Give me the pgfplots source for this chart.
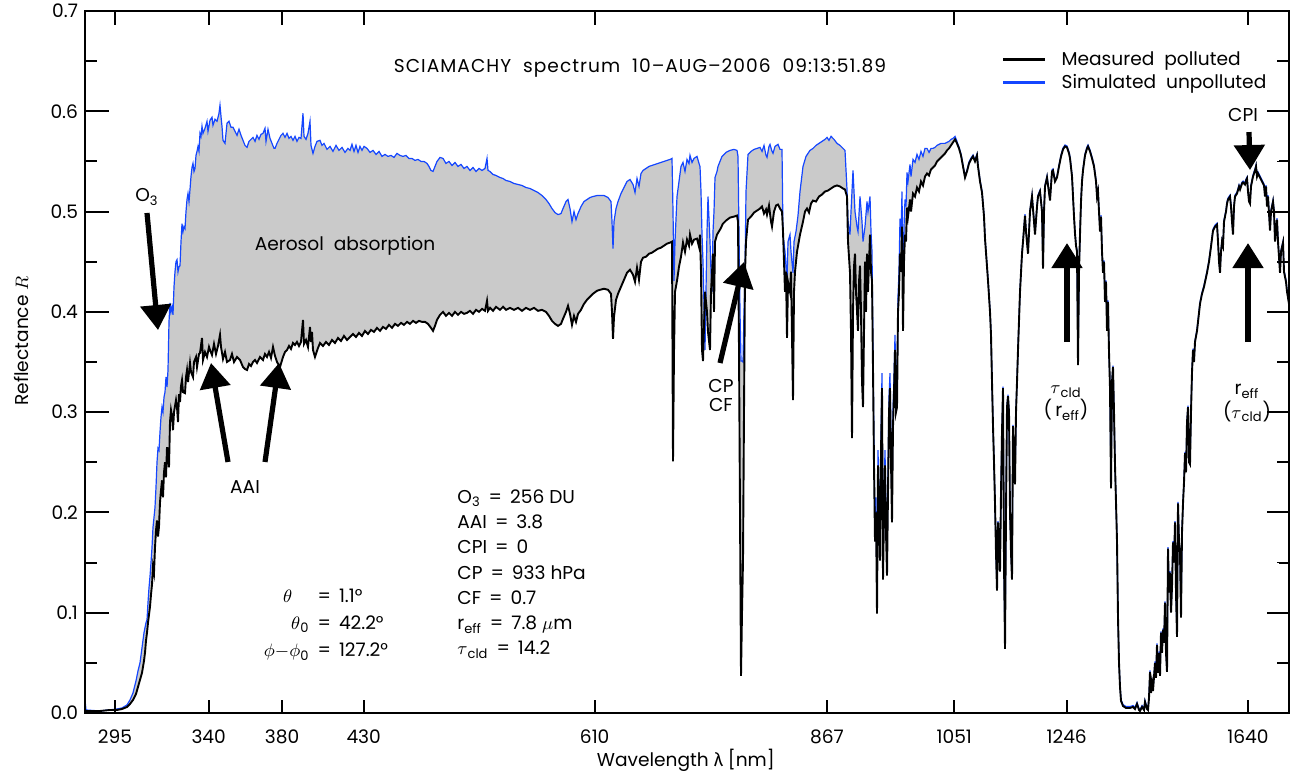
\documentclass[border=0pt]{standalone}
\usepackage{fontspec}
\setmainfont{Poppins}
\newfontfamily\grk{Fira Sans}
\usepackage{pgfplots}
\usepackage{pgfplotstable}
\pgfplotsset{compat=1.18}
\usetikzlibrary{arrows.meta}
\definecolor{simblue}{RGB}{20,70,255}
\definecolor{fillgray}{RGB}{202,202,202}
\newcommand{\eq}{\hspace{4pt}=\hspace{4pt}}

\pgfplotstableread{
x y
85 0.002
100 0.002
110 0.003
117 0.003
122 0.004
127 0.006
130 0.009
133 0.013
136 0.019
138 0.026
140 0.033
142 0.040
144 0.052
145 0.060
146 0.072
147 0.080
148 0.090
149 0.098
150 0.106
151 0.118
152 0.128
153 0.146
154 0.140
155 0.165
156 0.182
157 0.192
158 0.176
159 0.186
160 0.210
161 0.222
162 0.232
163 0.215
164 0.240
165 0.250
166 0.235
167 0.265
168 0.255
169 0.245
170 0.290
171 0.302
172 0.296
173 0.282
174 0.300
176 0.312
177 0.305
178 0.290
179 0.318
180 0.310
181 0.326
182 0.332
183 0.320
185 0.319
186 0.335
187 0.342
188 0.330
190 0.349
191 0.340
193 0.335
194 0.350
196 0.355
197 0.345
199 0.358
200 0.359
202 0.374
203 0.352
205 0.360
207 0.355
209 0.365
210 0.362
212 0.357
214 0.368
216 0.358
218 0.366
220 0.377
221 0.365
223 0.353
225 0.360
227 0.350
230 0.352
232 0.358
234 0.350
237 0.355
240 0.352
243 0.345
245 0.343
247 0.342
249 0.348
251 0.346
253 0.350
255 0.352
257 0.349
260 0.355
263 0.352
265 0.358
267 0.355
269 0.360
271 0.354
273 0.365
275 0.356
277 0.350
280 0.345
283 0.355
285 0.360
287 0.362
289 0.366
291 0.363
293 0.369
295 0.367
297 0.370
299 0.366
301 0.370
303 0.392
304 0.368
306 0.372
308 0.365
310 0.385
311 0.370
312 0.380
313 0.362
315 0.355
318 0.364
320 0.369
323 0.366
326 0.370
329 0.367
332 0.372
335 0.369
338 0.374
341 0.371
344 0.376
347 0.372
350 0.375
353 0.378
356 0.375
359 0.379
362 0.376
365 0.381
368 0.378
371 0.382
374 0.380
377 0.384
380 0.381
383 0.385
386 0.383
389 0.387
392 0.384
395 0.388
398 0.386
401 0.389
404 0.387
407 0.390
410 0.388
413 0.391
416 0.389
419 0.391
422 0.390
425 0.390
428 0.388
431 0.384
433 0.381
435 0.386
437 0.392
440 0.397
443 0.400
446 0.396
449 0.399
452 0.396
455 0.400
458 0.397
461 0.400
464 0.398
467 0.399
470 0.401
473 0.398
476 0.402
479 0.400
482 0.403
485 0.401
487 0.411
488 0.401
490 0.404
493 0.401
496 0.405
500 0.402
503 0.405
506 0.402
510 0.404
514 0.402
518 0.404
522 0.401
526 0.404
530 0.402
534 0.404
538 0.401
542 0.402
546 0.400
549 0.396
552 0.391
555 0.388
558 0.386
561 0.388
563 0.393
566 0.400
568 0.406
570 0.398
572 0.387
574 0.396
576 0.390
578 0.398
581 0.402
584 0.408
587 0.412
590 0.415
593 0.418
597 0.421
600 0.422
604 0.423
608 0.422
611 0.418
612 0.400
613 0.373
614 0.395
616 0.412
618 0.418
621 0.425
624 0.432
627 0.439
630 0.442
633 0.437
635 0.430
637 0.444
639 0.432
641 0.450
643 0.454
646 0.455
649 0.458
652 0.459
655 0.461
658 0.463
661 0.464
664 0.466
667 0.468
670 0.469
672 0.470
673 0.251
674 0.360
675 0.420
677 0.431
679 0.445
681 0.455
683 0.469
685 0.460
687 0.472
689 0.466
690 0.477
692 0.468
694 0.472
697 0.473
699 0.465
700 0.477
701 0.440
702 0.362
703 0.351
705 0.420
707 0.400
708 0.380
710 0.362
711 0.420
713 0.458
714 0.400
715 0.470
717 0.477
720 0.482
723 0.488
726 0.491
730 0.494
734 0.495
737 0.496
738 0.490
739 0.362
740 0.200
741 0.037
742 0.100
743 0.152
744 0.300
745 0.439
746 0.470
748 0.492
751 0.495
754 0.499
757 0.501
760 0.503
762 0.505
764 0.498
766 0.502
767 0.497
769 0.506
771 0.490
772 0.485
774 0.500
776 0.506
778 0.507
780 0.503
782 0.500
783 0.480
785 0.420
786 0.440
787 0.374
788 0.430
790 0.420
791 0.440
793 0.312
794 0.420
795 0.440
797 0.460
800 0.477
803 0.490
805 0.500
807 0.503
809 0.499
811 0.508
813 0.511
816 0.510
819 0.515
822 0.517
825 0.520
828 0.521
831 0.523
834 0.525
837 0.526
840 0.525
843 0.523
845 0.522
847 0.515
848 0.470
850 0.439
851 0.380
852 0.274
853 0.400
854 0.445
855 0.458
856 0.420
858 0.381
859 0.430
860 0.446
861 0.400
862 0.331
863 0.305
864 0.380
865 0.450
866 0.400
867 0.458
868 0.420
870 0.477
871 0.440
872 0.431
873 0.343
874 0.247
875 0.171
876 0.200
877 0.099
878 0.247
879 0.200
880 0.152
881 0.260
882 0.324
883 0.133
884 0.200
885 0.247
886 0.180
887 0.137
888 0.220
889 0.300
890 0.324
891 0.250
892 0.190
893 0.286
894 0.320
895 0.362
896 0.300
897 0.305
898 0.400
899 0.420
900 0.458
901 0.440
902 0.485
903 0.381
904 0.450
905 0.477
906 0.470
907 0.504
908 0.495
910 0.512
911 0.500
913 0.518
915 0.515
917 0.524
919 0.520
921 0.530
923 0.526
925 0.535
927 0.538
929 0.536
931 0.542
933 0.544
935 0.546
937 0.550
939 0.552
941 0.554
943 0.556
945 0.558
947 0.561
949 0.563
951 0.566
953 0.569
955 0.572
957 0.568
959 0.563
961 0.556
963 0.545
965 0.534
967 0.540
969 0.548
971 0.552
973 0.555
975 0.550
977 0.556
978 0.545
980 0.530
982 0.519
984 0.495
985 0.473
987 0.445
988 0.431
990 0.400
991 0.377
992 0.330
993 0.286
994 0.250
995 0.209
996 0.160
997 0.122
998 0.190
999 0.170
1000 0.141
1001 0.220
1002 0.280
1003 0.324
1004 0.150
1005 0.064
1006 0.200
1007 0.305
1008 0.316
1009 0.300
1010 0.200
1011 0.160
1012 0.133
1013 0.286
1014 0.250
1015 0.228
1016 0.300
1017 0.330
1018 0.362
1020 0.420
1022 0.458
1023 0.470
1025 0.496
1026 0.480
1028 0.458
1030 0.500
1032 0.515
1034 0.490
1035 0.477
1037 0.505
1038 0.515
1040 0.520
1042 0.500
1043 0.443
1044 0.500
1045 0.525
1047 0.534
1050 0.511
1052 0.540
1053 0.541
1055 0.530
1057 0.534
1059 0.545
1061 0.555
1063 0.562
1065 0.565
1067 0.564
1069 0.558
1070 0.553
1072 0.535
1073 0.515
1074 0.495
1075 0.478
1076 0.466
1077 0.460
1078 0.347
1079 0.440
1080 0.477
1081 0.510
1082 0.530
1083 0.541
1085 0.556
1087 0.563
1088 0.565
1090 0.560
1092 0.553
1094 0.545
1096 0.530
1097 0.515
1098 0.520
1100 0.480
1101 0.495
1102 0.460
1103 0.439
1104 0.450
1105 0.410
1106 0.430
1107 0.381
1108 0.410
1109 0.360
1110 0.324
1111 0.224
1112 0.330
1113 0.345
1114 0.300
1115 0.247
1116 0.210
1117 0.171
1118 0.095
1119 0.050
1120 0.026
1121 0.012
1123 0.007
1126 0.005
1130 0.005
1133 0.006
1135 0.004
1137 0.009
1139 0.003
1140 0.002
1142 0.006
1144 0.003
1145 0.011
1147 0.004
1148 0.003
1149 0.015
1150 0.041
1151 0.020
1152 0.030
1153 0.022
1155 0.050
1156 0.035
1157 0.068
1158 0.040
1159 0.060
1160 0.037
1161 0.080
1162 0.060
1163 0.083
1164 0.070
1165 0.110
1166 0.060
1167 0.041
1168 0.164
1169 0.120
1170 0.140
1171 0.100
1172 0.126
1173 0.170
1174 0.150
1175 0.190
1176 0.120
1177 0.076
1178 0.209
1179 0.170
1180 0.160
1181 0.095
1182 0.180
1183 0.209
1184 0.230
1185 0.259
1186 0.240
1187 0.290
1188 0.305
1189 0.250
1190 0.248
1191 0.300
1192 0.340
1193 0.362
1194 0.350
1195 0.370
1197 0.381
1198 0.390
1200 0.408
1202 0.418
1204 0.425
1207 0.439
1209 0.450
1211 0.465
1213 0.481
1215 0.485
1217 0.487
1218 0.470
1219 0.450
1220 0.439
1221 0.460
1222 0.470
1223 0.466
1224 0.490
1226 0.500
1227 0.508
1228 0.512
1230 0.515
1231 0.505
1232 0.490
1233 0.477
1234 0.505
1235 0.515
1237 0.518
1239 0.525
1240 0.522
1242 0.528
1243 0.529
1245 0.527
1246 0.531
1247 0.533
1248 0.520
1249 0.510
1250 0.508
1251 0.525
1253 0.535
1255 0.541
1256 0.545
1257 0.535
1258 0.538
1260 0.534
1262 0.530
1264 0.526
1265 0.515
1266 0.525
1267 0.505
1268 0.515
1270 0.481
1271 0.500
1273 0.510
1274 0.500
1275 0.470
1277 0.492
1278 0.470
1280 0.439
1281 0.460
1283 0.469
1284 0.440
1286 0.430
1287 0.420
1289 0.408
}\measured

\pgfplotstableread{
x y
85 0.013
86 0.003
100 0.002
117 0.004
122 0.005
127 0.008
130 0.013
133 0.020
136 0.032
138 0.042
140 0.050
142 0.065
144 0.080
146 0.090
147 0.093
148 0.110
149 0.125
150 0.136
151 0.150
152 0.165
153 0.185
154 0.195
155 0.205
156 0.225
157 0.250
158 0.264
159 0.262
160 0.280
161 0.295
162 0.305
163 0.300
164 0.315
165 0.320
166 0.335
167 0.325
168 0.342
169 0.390
170 0.409
171 0.400
172 0.405
173 0.397
174 0.425
175 0.440
176 0.450
177 0.452
178 0.440
179 0.445
180 0.446
181 0.470
182 0.488
183 0.480
184 0.485
185 0.483
186 0.500
187 0.512
188 0.518
189 0.510
190 0.522
191 0.535
192 0.544
193 0.548
194 0.540
195 0.543
196 0.556
197 0.560
198 0.565
199 0.560
200 0.578
201 0.575
202 0.585
203 0.578
205 0.583
207 0.590
208 0.580
210 0.591
212 0.594
213 0.586
215 0.592
217 0.590
219 0.598
220 0.606
221 0.595
222 0.585
223 0.571
225 0.568
227 0.588
229 0.590
231 0.584
233 0.584
235 0.580
237 0.576
239 0.582
241 0.576
243 0.571
245 0.566
247 0.564
249 0.570
251 0.572
253 0.574
255 0.570
257 0.576
259 0.572
261 0.577
263 0.578
265 0.583
266 0.570
268 0.582
270 0.573
272 0.568
274 0.563
275 0.563
277 0.568
279 0.572
281 0.576
283 0.578
285 0.574
287 0.578
289 0.573
291 0.575
293 0.571
295 0.575
297 0.570
299 0.574
301 0.573
303 0.598
304 0.575
306 0.572
308 0.578
310 0.590
311 0.566
313 0.558
315 0.565
317 0.570
320 0.571
322 0.566
324 0.568
327 0.562
330 0.565
333 0.560
336 0.566
339 0.561
342 0.564
345 0.559
348 0.563
350 0.561
352 0.567
354 0.560
356 0.566
358 0.559
360 0.565
362 0.561
364 0.565
367 0.563
370 0.559
373 0.561
376 0.557
379 0.560
382 0.555
385 0.557
388 0.555
391 0.556
394 0.554
397 0.558
400 0.556
403 0.555
406 0.556
409 0.553
412 0.553
415 0.551
418 0.552
421 0.550
424 0.550
427 0.548
429 0.545
431 0.541
433 0.540
435 0.545
437 0.550
440 0.554
443 0.553
446 0.548
449 0.550
452 0.546
455 0.549
458 0.545
461 0.547
464 0.543
467 0.545
470 0.541
473 0.544
476 0.540
479 0.543
482 0.541
485 0.543
487 0.553
488 0.541
490 0.540
493 0.537
496 0.536
500 0.534
503 0.533
506 0.531
510 0.530
514 0.528
518 0.527
522 0.526
526 0.524
530 0.523
534 0.521
538 0.519
542 0.516
546 0.512
549 0.508
552 0.503
555 0.499
558 0.497
561 0.498
563 0.503
566 0.510
568 0.512
570 0.503
572 0.490
574 0.500
576 0.492
578 0.498
581 0.505
584 0.510
587 0.512
590 0.514
593 0.515
597 0.516
600 0.516
604 0.516
608 0.514
611 0.510
612 0.490
613 0.463
614 0.490
616 0.503
618 0.510
621 0.518
624 0.524
627 0.530
630 0.532
633 0.527
635 0.519
637 0.533
639 0.525
641 0.538
643 0.541
646 0.543
649 0.545
652 0.546
655 0.547
658 0.548
661 0.549
664 0.550
667 0.551
670 0.552
672 0.553
673 0.500
674 0.431
675 0.470
677 0.515
679 0.530
681 0.545
683 0.549
685 0.540
687 0.552
689 0.548
690 0.556
692 0.549
694 0.553
697 0.555
699 0.548
700 0.545
701 0.520
702 0.477
703 0.450
705 0.362
707 0.480
708 0.515
710 0.470
711 0.440
712 0.420
713 0.480
714 0.500
715 0.534
717 0.540
718 0.545
720 0.550
722 0.555
726 0.559
730 0.561
734 0.562
737 0.561
738 0.555
739 0.477
740 0.400
741 0.351
742 0.351
743 0.350
744 0.400
745 0.439
746 0.520
748 0.557
751 0.560
754 0.562
757 0.563
760 0.564
762 0.560
764 0.566
766 0.556
767 0.554
769 0.565
770 0.567
772 0.560
773 0.558
775 0.565
778 0.567
780 0.562
782 0.562
783 0.477
785 0.460
787 0.431
788 0.470
790 0.477
791 0.460
793 0.439
794 0.470
796 0.480
798 0.496
800 0.520
803 0.545
806 0.555
810 0.561
813 0.563
816 0.566
819 0.568
822 0.570
825 0.572
827 0.574
829 0.571
831 0.575
834 0.572
837 0.568
840 0.566
843 0.563
845 0.561
847 0.522
848 0.490
850 0.477
851 0.500
853 0.541
854 0.520
855 0.500
857 0.485
858 0.480
860 0.515
862 0.490
863 0.470
865 0.485
867 0.510
868 0.500
870 0.515
871 0.480
872 0.460
873 0.358
874 0.262
875 0.186
876 0.215
877 0.114
878 0.262
879 0.215
880 0.167
881 0.275
882 0.339
883 0.148
884 0.215
885 0.262
886 0.195
887 0.152
888 0.235
889 0.315
890 0.339
891 0.265
892 0.205
893 0.301
894 0.335
895 0.377
896 0.315
897 0.320
898 0.415
899 0.440
900 0.493
901 0.475
902 0.520
903 0.416
904 0.485
905 0.512
906 0.505
907 0.539
908 0.530
910 0.547
911 0.535
913 0.552
915 0.549
917 0.557
919 0.552
921 0.560
923 0.555
925 0.563
927 0.563
929 0.559
931 0.563
933 0.563
935 0.564
937 0.566
939 0.567
941 0.568
943 0.568
945 0.568
947 0.569
949 0.570
951 0.572
953 0.573
955 0.575
957 0.570
}\simulated

\begin{document}
\begin{tikzpicture}[font=\fontsize{9.3}{11}\selectfont]
\useasboundingbox (-42.5pt,-30.5pt) rectangle (602.5pt,356.5pt);
\begin{axis}[
  at={(0pt,0pt)}, anchor=south west,
  scale only axis, width=602pt, height=351pt,
  xmin=85, xmax=1289, ymin=0, ymax=0.7,
  clip=false,
  xtick={115,208.7,282,363.7,594.7,827,954.3,1066.7,1248},
  xticklabels={295,340,380,430,610,867,1051,1246,1640},
  xticklabel style={yshift=-5pt},
  ytick={0,0.1,0.2,0.3,0.4,0.5,0.6,0.7},
  minor y tick num=1,
  y tick label style={/pgf/number format/fixed, /pgf/number format/fixed zerofill, /pgf/number format/precision=1, /pgf/number format/assume math mode=true},
  major tick length=6.5pt, minor tick length=6pt,
  tick style={draw=black, line width=0.8pt},
  axis line style={line width=0.75pt},
  xlabel={Wavelength {\grk λ} [nm]},
  ylabel={Reflectance $R$},
  xlabel style={at={(axis description cs:0.499,-0.067)}, anchor=center},
  ylabel style={at={(axis description cs:-0.053,0.53)}, anchor=center},
  legend style={at={(axis cs:1001,0.664)}, anchor=north west, draw=none, fill=none,
    inner sep=0pt, row sep=-1pt, font=\fontsize{9.3}{11}\selectfont,
    /tikz/every odd column/.append style={column sep=5.5pt}},
  legend cell align=left,
  legend image code/.code={\draw[#1] (0pt,0pt) -- (21pt,0pt);},
]
\addplot[fill=fillgray, draw=none, forget plot] table[x=x,y=y] {\simulated} \closedcycle;
\addplot[fill=white, draw=none, forget plot, restrict x to domain=85:961] table[x=x,y=y] {\measured} \closedcycle;
\addplot[simblue, line width=0.6pt, yshift=0.7pt, restrict x to domain=955:1289, forget plot] table[x=x,y=y] {\measured};
\addplot[simblue, line width=0.6pt, forget plot] table[x=x,y=y] {\simulated};
\addplot[black, line width=0.95pt, forget plot] table[x=x,y=y] {\measured};

\addlegendimage{black, line width=1.6pt}
\addlegendentry{Measured\ \ polluted}
\addlegendimage{simblue, line width=1.6pt}
\addlegendentry{Simulated\ \ unpolluted}

% tick marks drawn as annotations, on top of the filled areas
\pgfplotsinvokeforeach{0.1,0.2,0.3,0.4,0.5,0.6}{
  \draw[line width=1pt] (axis cs:85,#1) -- (axis cs:109,#1);
  \draw[line width=1pt] (axis cs:1289,#1) -- (axis cs:1267,#1);
}
\pgfplotsinvokeforeach{0.05,0.15,0.25,0.35,0.45,0.55,0.65}{
  \draw[line width=1pt] (axis cs:85,#1) -- (axis cs:97,#1);
  \draw[line width=1pt] (axis cs:1289,#1) -- (axis cs:1279,#1);
}
\pgfplotsinvokeforeach{115,208.7,282,363.7,594.7,827,954.3,1066.7,1248}{
  \draw[line width=1pt] (axis cs:#1,0) -- (axis cs:#1,0.013);
  \draw[line width=1pt] (axis cs:#1,0.7) -- (axis cs:#1,0.686);
}
\draw[line width=0.75pt] (axis cs:85,0) rectangle (axis cs:1289,0.7);

\node[font=\fontsize{9.3}{11}\selectfont\addfontfeatures{LetterSpace=5.5}] at (axis cs:640,0.6431) {SCIAMACHY\ \ spectrum\ \ 10--AUG--2006\ \ 09:13:51.89};
\node at (axis cs:345,0.4657) {Aerosol\ \ absorption};
\node at (axis cs:147,0.5145) {O\textsubscript{3}};
\node at (axis cs:245,0.2253) {AAI};
\node[align=center, font=\fontsize{9.3}{9.5}\selectfont] at (axis cs:721,0.317) {CP\\CF};
\node[align=center, font=\fontsize{9.3}{9.5}\selectfont] at (axis cs:1066,0.309) {$\tau$\textsubscript{cld}\\($\,$r\textsubscript{eff})};
\node[align=center, font=\fontsize{9.3}{9.5}\selectfont] at (axis cs:1247,0.309) {r\textsubscript{eff}\\($\tau$\textsubscript{cld})};
\node at (axis cs:1243,0.5963) {CPI};

\node[align=left, anchor=west, inner sep=0pt, font=\fontsize{9.3}{12.65}\selectfont] at (axis cs:457,0.1386)
  {O\textsubscript{3}\eq 256 DU\\AAI\eq 3.8\\CPI\eq 0\\CP\eq 933 hPa\\CF\eq 0.7\\r\textsubscript{eff}\eq 7.8 $\mu$m\\$\tau$\textsubscript{cld}\eq 14.2};
\node[inner sep=0pt, font=\fontsize{9.3}{12.65}\selectfont] at (axis cs:326,0.0887)
  {\renewcommand{\arraystretch}{1.08}\begin{tabular}{@{}r@{\eq}l@{}}
  $\theta$\hspace{4pt}\phantom{\textsubscript{0}} & 1.1° \\
  $\theta$\textsubscript{0} & 42.2° \\
  $\phi{-}\phi$\textsubscript{0} & 127.2°
  \end{tabular}};

\draw[line width=2.6pt, -{Triangle[width=15pt,length=12.5pt]}] (axis cs:147,0.4986) -- (axis cs:158,0.3819);
\draw[line width=2.6pt, -{Triangle[width=15pt,length=12.5pt]}] (axis cs:228,0.2503) -- (axis cs:211,0.349);
\draw[line width=2.6pt, -{Triangle[width=15pt,length=12.5pt]}] (axis cs:265,0.2503) -- (axis cs:279,0.349);
\draw[line width=2.6pt, -{Triangle[width=15pt,length=12.5pt]}] (axis cs:720,0.349) -- (axis cs:744,0.4497);
\draw[line width=2.6pt, -{Triangle[width=15pt,length=12.5pt]}] (axis cs:1067,0.3699) -- (axis cs:1067,0.4686);
\draw[line width=2.6pt, -{Triangle[width=15pt,length=12.5pt]}] (axis cs:1248,0.3699) -- (axis cs:1248,0.4686);
\draw[line width=2.6pt, -{Triangle[width=15pt,length=12.5pt]}] (axis cs:1249,0.5793) -- (axis cs:1250,0.5414);
\end{axis}
\end{tikzpicture}
\end{document}
